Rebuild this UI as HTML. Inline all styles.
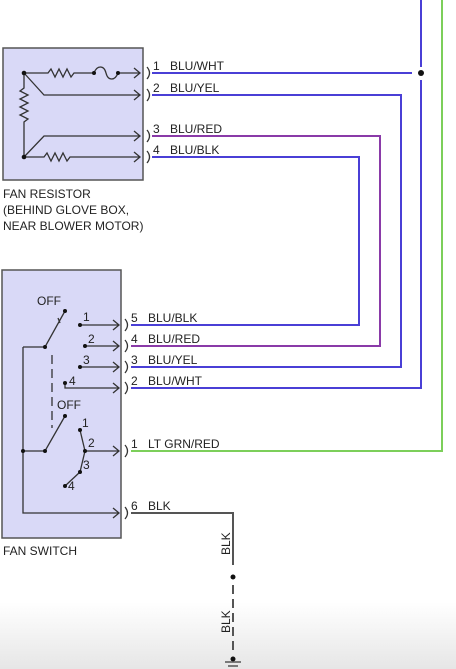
<!DOCTYPE html>
<html><head><meta charset="utf-8"><style>
html,body{margin:0;padding:0;background:#fff;}
svg{display:block;font-family:"Liberation Sans",sans-serif;}
text{font-size:12px;fill:#222;}
</style></head><body>
<svg width="456" height="669" viewBox="0 0 456 669" xmlns="http://www.w3.org/2000/svg">
<defs><linearGradient id="bg" x1="0" y1="0" x2="0" y2="1"><stop offset="0.9" stop-color="#fff"/><stop offset="1" stop-color="#e6e6e6"/></linearGradient></defs>
<rect width="456" height="669" fill="url(#bg)"/>
<!-- boxes -->
<rect x="3" y="48" width="140" height="132" fill="#d9d9f7" stroke="#555" stroke-width="1.5"/>
<rect x="2" y="270" width="119" height="268" fill="#d9d9f7" stroke="#555" stroke-width="1.5"/>
<g fill="none" stroke="#333" stroke-width="1.3">
<!-- resistor internals -->
<path d="M24 73 H48 l3 -4 l4 8 l4 -8 l4 8 l4 -8 l4 8 l3 -4 H94"/>
<path d="M94 73 c3 -8 10 -8 12 0 c2 8 9 8 12 0 H140"/>
<path d="M134 68 l6 5 l-6 5"/>
<path d="M24 73 L44 95 H140"/><path d="M134 90 l6 5 l-6 5"/>
<path d="M24 73 V88 l-4 3 l8 4 l-8 4 l8 4 l-8 4 l8 4 l-8 4 l8 4 l-4 3 V157"/>
<path d="M24 157 L44 136 H140"/><path d="M134 131 l6 5 l-6 5"/>
<path d="M24 157 H44 l3 -4 l4 8 l4 -8 l4 8 l4 -8 l4 8 l3 -4 H140"/><path d="M134 152 l6 5 l-6 5"/>
<!-- connector brackets -->
<path d="M147 67 q5 6 0 12 M147 89 q5 6 0 12 M147 130 q5 6 0 12 M147 151 q5 6 0 12"/>
<path d="M125 319 q5 6 0 12 M125 340 q5 6 0 12 M125 361 q5 6 0 12 M125 382 q5 6 0 12 M125 445 q5 6 0 12 M125 507 q5 6 0 12"/>
<!-- switch internals -->
<path d="M23 347 V513 H119"/><path d="M113 508 l6 5 l-6 5"/>
<path d="M23 347 H45 L65 311"/><path d="M58 318 l2 5"/>
<path d="M80 325 H119"/><path d="M113 320 l6 5 l-6 5"/>
<path d="M85 346 H119"/><path d="M113 341 l6 5 l-6 5"/>
<path d="M80 367 H119"/><path d="M113 362 l6 5 l-6 5"/>
<path d="M65 383 V388 H119"/><path d="M113 383 l6 5 l-6 5"/>
<path d="M52 355 V428" stroke-dasharray="9 5"/>
<path d="M23 451 H45 L65 416"/>
<path d="M80 430 L85 451 H119"/><path d="M113 446 l6 5 l-6 5"/>
<path d="M85 451 L80 472 L65 486"/>
</g>
<g fill="#111">
<circle cx="24" cy="73" r="2.3"/><circle cx="24" cy="157" r="2.3"/><circle cx="94" cy="73" r="2"/><circle cx="118" cy="73" r="2"/>
<circle cx="45" cy="347" r="2"/><circle cx="65" cy="311" r="2"/><circle cx="80" cy="325" r="2"/><circle cx="85" cy="346" r="2"/><circle cx="80" cy="367" r="2"/><circle cx="65" cy="383" r="2"/>
<circle cx="23" cy="451" r="2"/><circle cx="45" cy="451" r="2"/><circle cx="65" cy="416" r="2"/><circle cx="80" cy="430" r="2"/><circle cx="85" cy="451" r="2"/><circle cx="80" cy="472" r="2"/><circle cx="65" cy="486" r="2"/>
<circle cx="421" cy="73" r="3"/><circle cx="233" cy="577" r="2.5"/><circle cx="233" cy="659" r="2.5"/>
</g>
<!-- wires -->
<g fill="none" stroke-width="2">
<path d="M442 0 V451 H131" stroke="#7ccf5a"/>
<path d="M421 0 V67" stroke="#4a3fd6"/>
<path d="M152 73 H412" stroke="#4a3fd6"/>
<path d="M421 80 V388 H131" stroke="#4a3fd6"/>
<path d="M152 95 H401 V367 H131" stroke="#4a3fd6"/>
<path d="M152 136 H380 V346 H131" stroke="#8a3aa8"/>
<path d="M152 157 H359 V325 H131" stroke="#4a3fd6"/>
<path d="M131 513 H233 V565" stroke="#555"/>
<path d="M233 585 V655" stroke="#555" stroke-dasharray="9 5"/>
<path d="M225 662 H241 M228 666 H238" stroke="#555" stroke-width="1.5"/>
</g>
<!-- labels -->
<text x="153" y="70">1</text><text x="170" y="70">BLU/WHT</text>
<text x="153" y="92">2</text><text x="170" y="92">BLU/YEL</text>
<text x="153" y="133">3</text><text x="170" y="133">BLU/RED</text>
<text x="153" y="154">4</text><text x="170" y="154">BLU/BLK</text>
<text x="3" y="198">FAN RESISTOR</text>
<text x="3" y="214">(BEHIND GLOVE BOX,</text>
<text x="3" y="230">NEAR BLOWER MOTOR)</text>
<text x="131" y="322">5</text><text x="148" y="322">BLU/BLK</text>
<text x="131" y="343">4</text><text x="148" y="343">BLU/RED</text>
<text x="131" y="364">3</text><text x="148" y="364">BLU/YEL</text>
<text x="131" y="385">2</text><text x="148" y="385">BLU/WHT</text>
<text x="131" y="448">1</text><text x="148" y="448">LT GRN/RED</text>
<text x="131" y="510">6</text><text x="148" y="510">BLK</text>
<text x="3" y="555">FAN SWITCH</text>
<text x="37" y="305" font-size="11">OFF</text>
<text x="57" y="409" font-size="11">OFF</text>
<g font-size="11"><text x="83" y="321">1</text><text x="88" y="343">2</text><text x="83" y="364">3</text><text x="69" y="385">4</text>
<text x="82" y="427">1</text><text x="88" y="447">2</text><text x="83" y="469">3</text><text x="68" y="490">4</text></g>
<text transform="translate(230,555) rotate(-90)">BLK</text>
<text transform="translate(230,633) rotate(-90)">BLK</text>
</svg>
</body></html>
